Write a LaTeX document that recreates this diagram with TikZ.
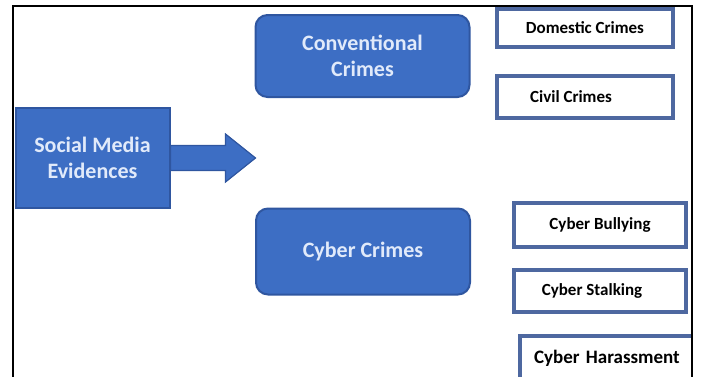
\documentclass[tikz,border=0pt]{standalone}
\usepackage{fontspec}
\setmainfont{Carlito}
\definecolor{boxblue}{RGB}{61,110,196}
\definecolor{boxedge}{RGB}{47,86,160}
\definecolor{leafedge}{RGB}{78,104,160}
\definecolor{boxtext}{RGB}{225,234,250}

\begin{document}
\begin{tikzpicture}[x=0.5pt, y=-0.5pt,
    bigbox/.style={draw=boxedge, line width=1pt, fill=boxblue, text=boxtext,
        font=\fontsize{11}{13}\selectfont\bfseries, align=center, inner sep=0pt},
    leafbox/.style={draw=leafedge, line width=2pt, fill=white, text=black,
        font=\fontsize{8.5}{10}\selectfont\bfseries, inner sep=0pt}]
    \useasboundingbox (0,0) rectangle (701,376);
    \clip (0,0) rectangle (701,376);

    \node[bigbox, minimum width=77pt, minimum height=50pt] (sme) at (92.5,158) {Social Media\\Evidences};
    \node[bigbox, rounded corners=6pt, minimum width=107pt, minimum height=41pt] (conv) at (362.5,56) {Conventional\\Crimes};
    \node[bigbox, rounded corners=6pt, minimum width=107pt, minimum height=43pt] (cyber) at (363,251.5) {Cyber Crimes};

    \node[leafbox, minimum width=88pt, minimum height=19pt] (dom) at (585,28) {Domestic Crimes};
    \node[leafbox, minimum width=88pt, minimum height=21pt] (civ) at (585,97) {\hspace{-14pt}Civil Crimes};
    \node[leafbox, minimum width=86pt, minimum height=22pt] (bul) at (600,225) {Cyber Bullying};
    \node[leafbox, minimum width=86pt, minimum height=21pt] (sta) at (600,290.5) {\hspace{-8pt}Cyber Stalking};
    \begin{scope}
        \clip (0,0) rectangle (692,376);
        \node[leafbox, anchor=north west, text width=130pt, align=left, minimum height=22pt,
            font=\fontsize{9.5}{11}\selectfont\bfseries] (har) at (518,334) {\hspace*{7pt}Cyber Harassment};
    \end{scope}

    \fill[boxblue, draw=boxedge, line width=0.6pt] ([yshift=6.25pt]sme.east) -- ++(55,0) -- ++(0,-11.5)
        -- ++(30,24) -- ++(-30,24) -- ++(0,-11.5) -- ++(-55,0) -- cycle;

    \draw[line width=1pt] (13,380) -- (13,6) -- (692,6) -- (692,380);
\end{tikzpicture}
\end{document}
